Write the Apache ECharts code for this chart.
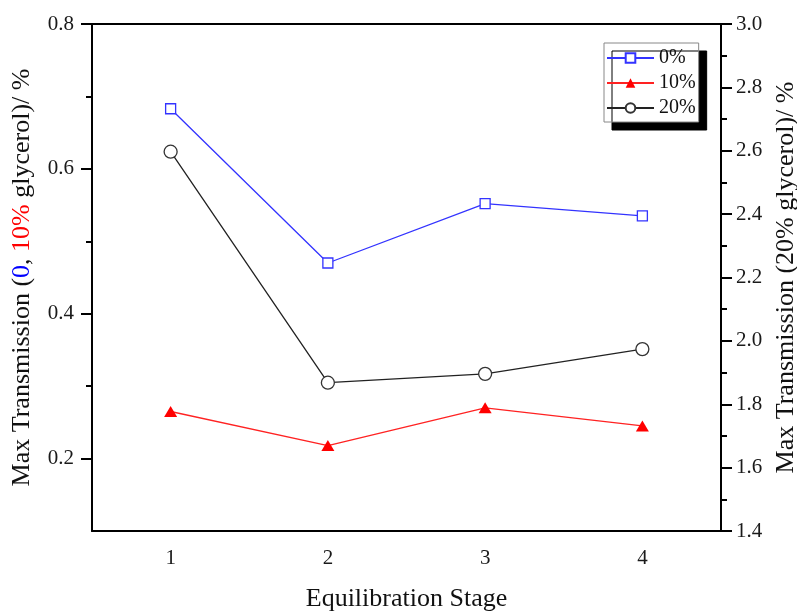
<!DOCTYPE html>
<html>
<head>
<meta charset="utf-8">
<script src="https://cdn.jsdelivr.net/npm/echarts@6/dist/echarts.min.js"></script>
<style>
  html, body { margin: 0; padding: 0; background: #fff; }
  #chart { width: 797px; height: 611px; }
</style>
</head>
<body>
<div id="chart"></div>
<script>
// Equilibration stages on the x axis
const stages = ['1', '2', '3', '4'];
// Max transmission, 0% and 10% glycerol (left axis)
const glycerol0 = [0.683, 0.470, 0.552, 0.535];
const glycerol10 = [0.265, 0.218, 0.270, 0.245];
// Max transmission, 20% glycerol (right axis)
const glycerol20 = [2.597, 1.868, 1.896, 1.974];
// Tick values
const leftMajorTicks = [0.2, 0.4, 0.6, 0.8];
const leftMinorTicks = [0.3, 0.5, 0.7];

const FONT = 'Liberation Serif';
const AXIS_LINE = { show: true, lineStyle: { color: '#000', width: 2 } };

const chart = echarts.init(document.getElementById('chart'), null, { renderer: 'canvas' });

chart.setOption({
  backgroundColor: '#fff',
  animation: false,
  textStyle: { fontFamily: FONT },
  grid: { left: 92, right: 76, top: 24, bottom: 80, containLabel: false, outerBoundsMode: 'none' },
  legend: {
    orient: 'vertical',
    left: 604,
    top: 43,
    padding: [5, 3, 4, 2],
    itemWidth: 47,
    itemHeight: 12,
    itemGap: 5,
    backgroundColor: '#fff',
    borderColor: '#888',
    borderWidth: 1,
    shadowColor: '#000',
    shadowBlur: 0,
    shadowOffsetX: 8,
    shadowOffsetY: 8,
    textStyle: { fontFamily: FONT, fontSize: 20, color: '#111', lineHeight: 20 },
    data: ['0%', '10%', '20%']
  },
  xAxis: [
    {
      type: 'category',
      data: stages,
      boundaryGap: true,
      position: 'bottom',
      name: 'Equilibration Stage',
      nameLocation: 'middle',
      nameGap: 55,
      nameTextStyle: { fontFamily: FONT, fontSize: 26, color: '#111' },
      axisLine: AXIS_LINE,
      axisTick: { alignWithLabel: true, length: 9, lineStyle: { color: '#000', width: 2 } },
      axisLabel: { fontFamily: FONT, fontSize: 21, color: '#1a1a1a', margin: 17 },
      splitLine: { show: false }
    },
    {
      type: 'category',
      data: stages,
      boundaryGap: true,
      position: 'top',
      axisLine: AXIS_LINE,
      axisTick: { alignWithLabel: true, inside: true, length: 10, lineStyle: { color: '#000', width: 2 } },
      axisLabel: { show: false },
      splitLine: { show: false }
    }
  ],
  yAxis: [
    {
      type: 'value',
      position: 'left',
      min: 0.1,
      max: 0.8,
      name: '{k|Max Transmission (}{b|0}{k|, }{r|10%}{k| glycerol)/ %}',
      nameLocation: 'middle',
      nameRotate: 90,
      nameGap: 57,
      nameTextStyle: {
        fontFamily: FONT,
        fontSize: 26,
        rich: {
          k: { fontFamily: FONT, fontSize: 26, color: '#111' },
          b: { fontFamily: FONT, fontSize: 26, color: '#0000ff' },
          r: { fontFamily: FONT, fontSize: 26, color: '#ff0000' }
        }
      },
      axisLine: AXIS_LINE,
      axisTick: { show: true, customValues: leftMajorTicks, length: 11, lineStyle: { color: '#000', width: 2 } },
      axisLabel: {
        customValues: leftMajorTicks,
        fontFamily: FONT, fontSize: 21, color: '#1a1a1a', margin: 18,
        formatter: v => v.toFixed(1)
      },
      splitLine: { show: false }
    },
    {
      type: 'value',
      position: 'right',
      min: 1.4,
      max: 3.0,
      interval: 0.2,
      name: 'Max Transmission (20% glycerol)/ %',
      nameLocation: 'middle',
      nameRotate: 90,
      nameGap: 49,
      nameTextStyle: { fontFamily: FONT, fontSize: 26, color: '#111' },
      axisLine: AXIS_LINE,
      axisTick: { show: true, length: 11, lineStyle: { color: '#000', width: 2 } },
      minorTick: { show: true, splitNumber: 2, length: 6, lineStyle: { color: '#000', width: 2 } },
      axisLabel: {
        fontFamily: FONT, fontSize: 21, color: '#1a1a1a', margin: 15,
        formatter: v => v.toFixed(1)
      },
      splitLine: { show: false }
    },
    {
      // minor ticks of the left axis
      type: 'value',
      position: 'left',
      min: 0.1,
      max: 0.8,
      axisLine: { show: false },
      axisTick: { show: true, customValues: leftMinorTicks, length: 6, lineStyle: { color: '#000', width: 2 } },
      axisLabel: { show: false },
      splitLine: { show: false }
    }
  ],
  series: [
    {
      name: '0%',
      type: 'line',
      xAxisIndex: 0,
      yAxisIndex: 0,
      data: glycerol0,
      symbol: 'rect',
      symbolSize: 10,
      showAllSymbol: true,
      lineStyle: { color: '#3333ff', width: 1.3 },
      itemStyle: { color: '#fff', borderColor: '#3333ff', borderWidth: 1.3 },
      z: 3
    },
    {
      name: '10%',
      type: 'line',
      xAxisIndex: 0,
      yAxisIndex: 0,
      data: glycerol10,
      symbol: 'triangle',
      symbolSize: [13, 11],
      lineStyle: { color: '#ff2222', width: 1.3 },
      itemStyle: { color: '#ff0000', borderWidth: 0 },
      z: 3
    },
    {
      name: '20%',
      type: 'line',
      xAxisIndex: 0,
      yAxisIndex: 1,
      data: glycerol20,
      symbol: 'circle',
      symbolSize: 13,
      lineStyle: { color: '#222', width: 1.3 },
      itemStyle: { color: '#fff', borderColor: '#333', borderWidth: 1.3 },
      z: 3
    }
  ]
});
</script>
</body>
</html>
